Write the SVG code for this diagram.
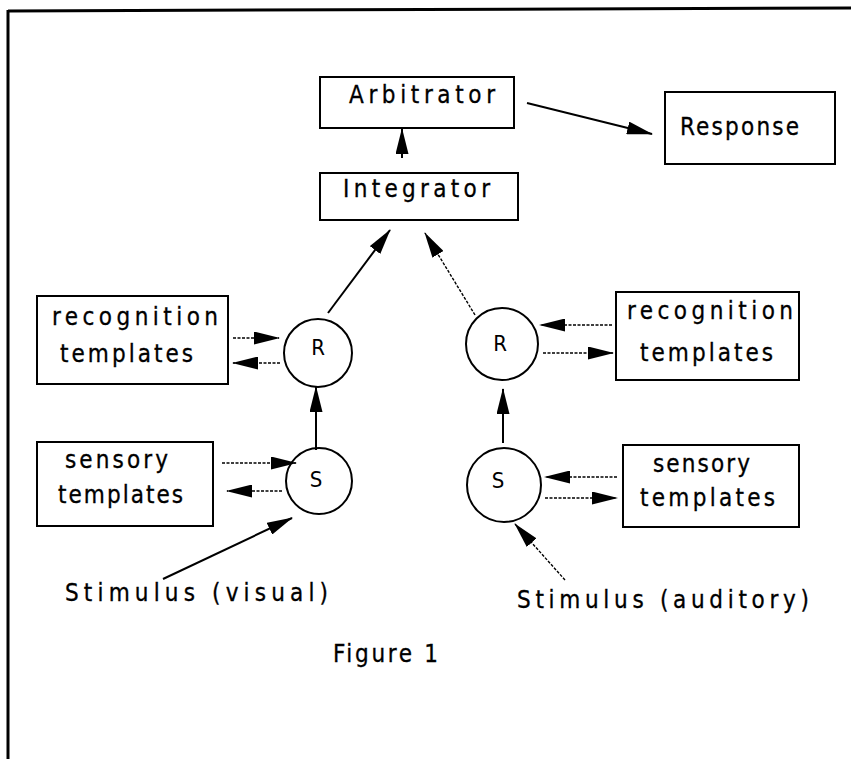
<svg xmlns="http://www.w3.org/2000/svg" width="851" height="759" viewBox="0 0 851 759">
<style>
.box{fill:none;stroke:#000;stroke-width:2}
.circ{fill:none;stroke:#000;stroke-width:2}
.t{font-family:"DejaVu Sans","Liberation Sans",sans-serif;font-stretch:condensed;font-size:24px;fill:#000;stroke:#000;stroke-width:0.3}
.c{font-family:"DejaVu Sans","Liberation Sans",sans-serif;font-stretch:condensed;font-size:22px;fill:#000;text-anchor:middle}
.ln{stroke:#000;stroke-width:2;fill:none}
.dl{stroke:#000;stroke-width:1.4;fill:none;stroke-dasharray:3 1.5}
</style>
<defs>
<marker id="ah" viewBox="0 0 26 13" markerWidth="26" markerHeight="13" refX="25" refY="6.5" orient="auto" markerUnits="userSpaceOnUse">
<path d="M0,0 L26,6.5 L0,13 z" fill="#000"/>
</marker>
</defs>
<rect width="851" height="759" fill="#fff"/>
<g id="frame">
<line x1="8" y1="11" x2="851" y2="8" stroke="#000" stroke-width="3"/>
<line x1="8" y1="10" x2="8" y2="759" stroke="#000" stroke-width="3"/>
</g>
<g id="arbitrator">
<rect class="box" x="320" y="77" width="194" height="51"/>
<text class="t" x="349" y="103" textLength="146" lengthAdjust="spacing">Arbitrator</text>
</g>
<g id="response">
<rect class="box" x="665" y="92" width="170" height="72"/>
<text class="t" x="680" y="135" textLength="119" lengthAdjust="spacing">Response</text>
</g>
<g id="integrator">
<rect class="box" x="320" y="173" width="198" height="47"/>
<text class="t" x="343" y="197" textLength="147" lengthAdjust="spacing">Integrator</text>
</g>
<g id="recog-left">
<rect class="box" x="37" y="296" width="191" height="88"/>
<text class="t" x="52" y="325" textLength="166" lengthAdjust="spacing">recognition</text>
<text class="t" x="60" y="362" textLength="133" lengthAdjust="spacing">templates</text>
</g>
<g id="R-left">
<circle class="circ" cx="318" cy="353" r="34"/>
<text class="c" x="318" y="355">R</text>
</g>
<g id="sens-left">
<rect class="box" x="37" y="442" width="176" height="84"/>
<text class="t" x="65" y="468" textLength="103" lengthAdjust="spacing">sensory</text>
<text class="t" x="58" y="503" textLength="125" lengthAdjust="spacing">templates</text>
</g>
<g id="S-left">
<circle class="circ" cx="319" cy="481" r="33"/>
<text class="c" x="316" y="487">S</text>
</g>
<g id="R-right">
<circle class="circ" cx="502" cy="344" r="36"/>
<text class="c" x="500" y="351">R</text>
</g>
<g id="recog-right">
<rect class="box" x="616" y="292" width="183" height="88"/>
<text class="t" x="627" y="319" textLength="166" lengthAdjust="spacing">recognition</text>
<text class="t" x="640" y="361" textLength="133" lengthAdjust="spacing">templates</text>
</g>
<g id="S-right">
<circle class="circ" cx="504" cy="485" r="37"/>
<text class="c" x="498" y="488">S</text>
</g>
<g id="sens-right">
<rect class="box" x="623" y="445" width="176" height="82"/>
<text class="t" x="653" y="472" textLength="97" lengthAdjust="spacing">sensory</text>
<text class="t" x="640" y="506" textLength="135" lengthAdjust="spacing">templates</text>
</g>
<g id="stim-visual">
<text class="t" x="65" y="601" textLength="263" lengthAdjust="spacing">Stimulus (visual)</text>
</g>
<g id="stim-auditory">
<text class="t" x="517" y="608" textLength="292" lengthAdjust="spacing">Stimulus (auditory)</text>
</g>
<g id="caption">
<text class="t" x="333" y="662" textLength="105" lengthAdjust="spacing">Figure 1</text>
</g>
<g id="connectors">
<line class="ln" x1="402" y1="158" x2="402" y2="129" marker-end="url(#ah)"/>
<line class="ln" x1="527" y1="103" x2="652" y2="134" stroke-width="2.5" marker-end="url(#ah)"/>
<line class="ln" x1="328" y1="313" x2="390" y2="230" marker-end="url(#ah)"/>
<line class="dl" x1="475" y1="315" x2="425" y2="233" marker-end="url(#ah)"/>
<line class="dl" x1="233" y1="338" x2="279" y2="338" marker-end="url(#ah)"/>
<line class="dl" x1="280" y1="363" x2="233" y2="363" marker-end="url(#ah)"/>
<line class="dl" x1="222" y1="463" x2="296" y2="463" marker-end="url(#ah)"/>
<line class="dl" x1="282" y1="491" x2="227" y2="491" marker-end="url(#ah)"/>
<line class="ln" x1="316" y1="450" x2="316" y2="387" stroke-width="1.5" marker-end="url(#ah)"/>
<line class="dl" x1="612" y1="325" x2="540" y2="325" marker-end="url(#ah)"/>
<line class="dl" x1="543" y1="353" x2="613" y2="353" marker-end="url(#ah)"/>
<line class="dl" x1="617" y1="477" x2="545" y2="477" marker-end="url(#ah)"/>
<line class="dl" x1="545" y1="498" x2="617" y2="498" marker-end="url(#ah)"/>
<line class="ln" x1="503" y1="443" x2="503" y2="389" stroke-width="1.5" marker-end="url(#ah)"/>
<line class="ln" x1="163" y1="579" x2="292" y2="518" marker-end="url(#ah)"/>
<line class="dl" x1="565" y1="580" x2="515" y2="524" marker-end="url(#ah)"/>
</g>
</svg>
